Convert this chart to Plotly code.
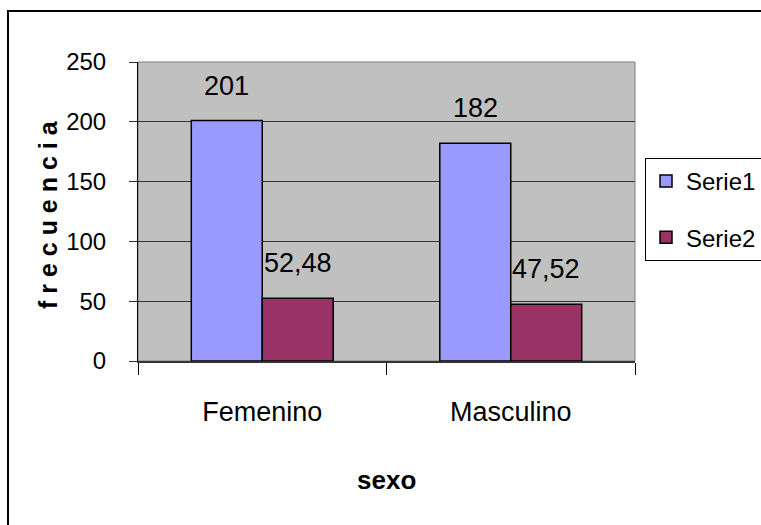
import plotly.graph_objects as go

categories = ["Femenino", "Masculino"]
serie1 = [201, 182]
serie2 = [52.48, 47.52]
series_names = ["Serie1", "Serie2"]
y_ticks = [0, 50, 100, 150, 200, 250]

FONT = "Liberation Sans, Arial, sans-serif"
W, H = 761, 525
L, R, T, B = 138, 635, 62, 361

def px_x(p):
    return (p - L) / (R - L)

def px_y(p):
    return (B - p) / (B - T)

fig = go.Figure()
colors = ["#9999FF", "#993366"]
for name, vals, col in zip(series_names, [serie1, serie2], colors):
    fig.add_trace(go.Bar(
        x=categories, y=vals, name=name, legendgroup=name,
        marker=dict(color=col, line=dict(color="#000000", width=1.5)),
    ))

def fmt(v):
    s = ("%g" % v)
    return s.replace(".", ",")

annotations = []
for vals, shift in zip([serie1, serie2], [-35.5, 35.5]):
    for c, v in zip(categories, vals):
        annotations.append(dict(
            x=c, y=v, xref="x", yref="y", text=fmt(v), showarrow=False,
            xshift=shift, yshift=35, yanchor="middle", xanchor="center",
            font=dict(family=FONT, size=27, color="#000000"),
        ))

annotations.append(dict(
    x=px_x(48), y=px_y(215), xref="paper", yref="paper",
    text="f r e c u e n c i a", textangle=-90, showarrow=False,
    xanchor="center", yanchor="middle",
    font=dict(family=FONT, size=25, color="#000000", weight="bold"),
))
annotations.append(dict(
    x=px_x(386), y=px_y(480), xref="paper", yref="paper",
    text="sexo", showarrow=False, xanchor="center", yanchor="middle",
    font=dict(family=FONT, size=26, color="#000000", weight="bold"),
))

shapes = [
    dict(type="rect", xref="paper", yref="paper",
         x0=px_x(8), x1=px_x(775), y0=px_y(540), y1=px_y(11),
         line=dict(color="#000000", width=2), fillcolor="rgba(0,0,0,0)", layer="below"),
    dict(type="rect", xref="paper", yref="paper", x0=0, x1=1, y0=0, y1=1,
         line=dict(color="#808080", width=1), fillcolor="rgba(0,0,0,0)", layer="below"),
]

fig.update_layout(
    width=W, height=H,
    margin=dict(l=L, r=W - R, t=T, b=H - B, pad=0, autoexpand=False),
    paper_bgcolor="#FFFFFF", plot_bgcolor="#C0C0C0",
    barmode="group", bargap=0.429, bargroupgap=0,
    font=dict(family=FONT, color="#000000"),
    showlegend=True,
    legend=dict(
        x=px_x(645), y=px_y(158), xanchor="left", yanchor="top",
        bgcolor="#FFFFFF", bordercolor="#000000", borderwidth=1,
        font=dict(family=FONT, size=24, color="#000000"),
        tracegroupgap=22, traceorder="grouped", itemwidth=30,
    ),
    annotations=annotations,
    shapes=shapes,
)
fig.update_yaxes(
    range=[0, 250], tickvals=y_ticks, ticktext=[str(t) for t in y_ticks],
    showgrid=True, gridcolor="#333333", gridwidth=1,
    showline=True, linecolor="#000000", linewidth=1,
    ticks="outside", ticklen=8, tickcolor="#333333",
    ticklabelstandoff=18, zeroline=False,
    tickfont=dict(family=FONT, size=24, color="#000000"),
)
fig.update_xaxes(
    showline=True, linecolor="#333333", linewidth=2,
    ticks="outside", ticklen=12, tickcolor="#000000", tickson="boundaries",
    ticklabelstandoff=26,
    tickfont=dict(family=FONT, size=27, color="#000000"),
)

fig.write_html(
    "out.html",
    config={"displayModeBar": False},
    post_script="document.body.style.margin='0';document.body.style.overflow='hidden';",
)
